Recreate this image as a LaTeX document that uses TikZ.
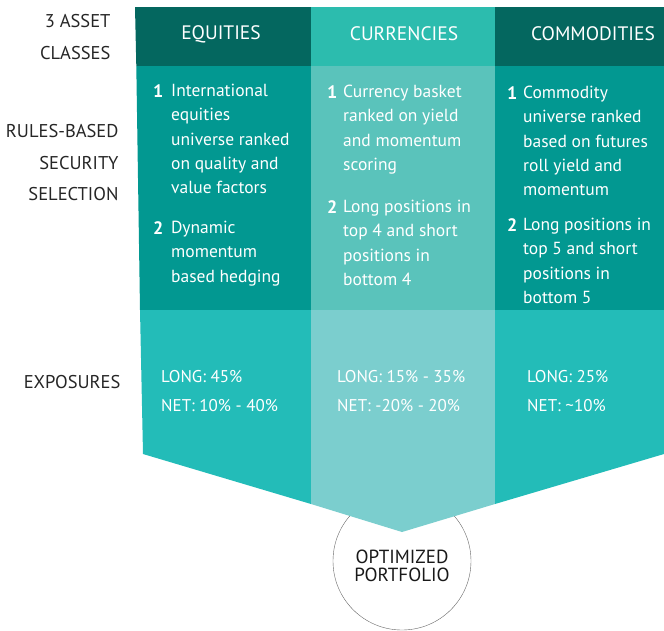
\documentclass[tikz,border=0pt]{standalone}
\usepackage{fontspec}
\setmainfont{PT Sans}
\usetikzlibrary{positioning}

\definecolor{hdrdark}{HTML}{04675F}
\definecolor{hdrlight}{HTML}{2CBCAE}
\definecolor{seldark}{HTML}{029891}
\definecolor{sellight}{HTML}{5AC3BB}
\definecolor{expdark}{HTML}{23BCB8}
\definecolor{explight}{HTML}{7BCECE}

\tikzset{
  rowlabel/.style={anchor=east, align=right, text=black!85,
    font=\fontsize{18.5}{31.5}\selectfont},
  hdrtext/.style={text=white, font=\fontsize{19.5}{20}\selectfont},
  numtext/.style={anchor=north west, inner sep=0pt, text=white,
    font=\bfseries\fontsize{18}{24}\selectfont},
  bodytext/.style={anchor=north west, align=left, inner sep=0pt, text=white,
    font=\fontsize{17.5}{24.3}\selectfont},
  exptext/.style={anchor=west, align=left, inner sep=0pt, text=white,
    font=\fontsize{17}{29}\selectfont},
}

\begin{document}
\begin{tikzpicture}[x=1pt,y=-1pt]

  \newcommand\XA{311};
  \newcommand\XB{495};
  \newcommand\XR{664};
  \useasboundingbox (0,0) rectangle (\XR,630);

  %% circle sits behind the funnel
  \node[circle, draw=black!60, minimum size=138pt, inner sep=0pt] (port) at (402,561) {};
  \node[align=center, text=black!90, font=\fontsize{19}{18}\selectfont] (porttxt)
  at (402,566) {OPTIMIZED\\PORTFOLIO};

  %% header row
  \fill[hdrdark] (135,7) -- (\XA,7) -- (\XA,66) -- (136.3,66) -- cycle;
  \fill[hdrlight] (\XA,7) rectangle (\XB,66);
  \fill[hdrdark] (\XB,7) rectangle (\XR,66);

  %% selection row
  \fill[seldark] (136.3,66) -- (\XA,66) -- (\XA,310) -- (140,310) -- cycle;
  \fill[sellight] (\XA,66) rectangle (\XB,310);
  \fill[seldark] (\XB,66) rectangle (\XR,310);

  %% exposures row + funnel
  \fill[expdark] (140,310) -- (\XA,310) -- (\XA,504) -- (143,454) -- cycle;
  \fill[explight] (\XA,310) -- (\XB,310) -- (\XB,504) -- (402,532) -- (\XA,504) -- cycle;
  \fill[expdark] (\XB,310) -- (\XR,310) -- (\XR,454) -- (\XB,504) -- cycle;

  %% left labels
  \node[rowlabel] (classes) at (114,37) {3 ASSET\\CLASSES};
  \node[rowlabel] (rules) at (122,163) {RULES-BASED\\SECURITY\\SELECTION};
  \node[rowlabel] (expo) at (124,382) {EXPOSURES};

  %% headers
  \node[hdrtext] (equ) at (221,34) {EQUITIES};
  \node[hdrtext] (cur) at (404,34) {CURRENCIES};
  \node[hdrtext] (com) at (593,34) {COMMODITIES};

  %% equities
  \node[numtext] (equA) at (153,84) {1};
  \node[bodytext] (equAtxt) at (171,84)
  {International\\equities\\universe ranked\\on quality and\\value factors};
  \node[numtext] (equB) at (153,221) {2};
  \node[bodytext] (equBtxt) at (171,221) {Dynamic\\momentum\\based hedging};

  %% currencies
  \node[numtext] (curA) at (327,85) {1};
  \node[bodytext] (curAtxt) at (343,85)
  {Currency basket\\ranked on yield\\and momentum\\scoring};
  \node[numtext] (curB) at (327,200) {2};
  \node[bodytext] (curBtxt) at (343,200)
  {Long positions in\\top 4 and short\\positions in\\bottom 4};

  %% commodities
  \node[numtext] (comA) at (507,86) {1};
  \node[bodytext] (comAtxt) at (523,86)
  {Commodity\\universe ranked\\based on futures\\roll yield and\\momentum};
  \node[numtext] (comB) at (507,218) {2};
  \node[bodytext] (comBtxt) at (523,218)
  {Long positions in\\top 5 and short\\positions in\\bottom 5};

  %% exposures
  \node[exptext] (equE) at (161,391) {LONG: 45\%\\NET: 10\% - 40\%};
  \node[exptext] (curE) at (337,391) {LONG: 15\% - 35\%\\NET: -20\% - 20\%};
  \node[exptext] (comE) at (527,391) {LONG: 25\%\\NET: \textasciitilde10\%};

\end{tikzpicture}
\end{document}
